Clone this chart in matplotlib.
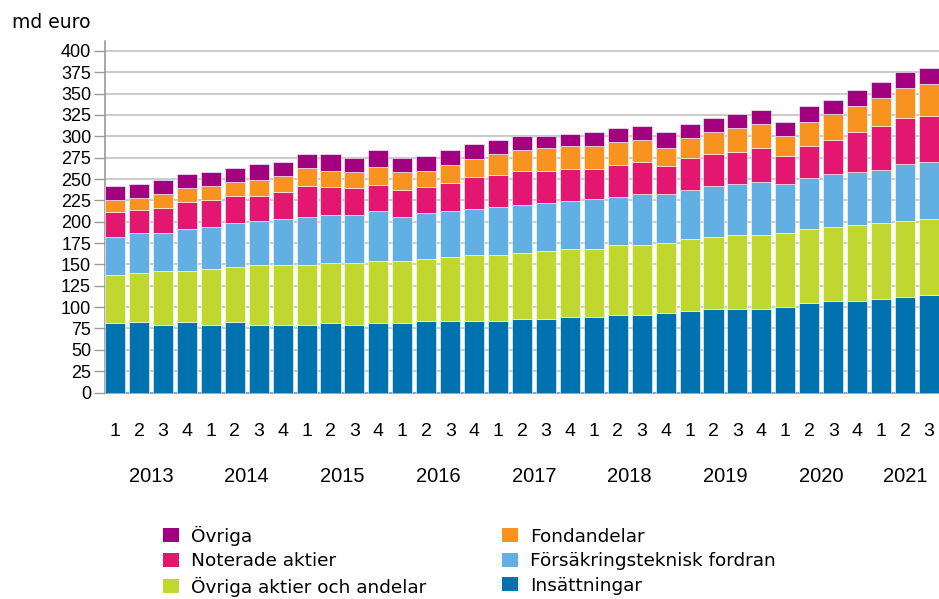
import matplotlib
matplotlib.use("Agg")
import matplotlib.pyplot as plt
import matplotlib.transforms as mtransforms
from matplotlib.patches import Patch
import numpy as np

quarters = ["1", "2", "3", "4"] * 8 + ["1", "2", "3"]
years = ["2013", "2014", "2015", "2016", "2017", "2018", "2019", "2020", "2021"]

insattningar = [81.7, 82.0, 79.0, 82.0, 79.0, 82.0, 79.0, 79.0, 79.0, 81.4, 79.0, 81.4,
                81.4, 83.7, 83.7, 83.7, 83.7, 86.0, 86.0, 88.4, 88.4, 90.7, 90.7, 93.0,
                95.4, 97.7, 97.7, 97.7, 100.1, 104.8, 107.1, 107.1, 109.5, 111.8, 114.2]
ovriga_aktier = [55.9, 58.3, 63.6, 60.6, 66.0, 65.3, 70.6, 70.6, 70.6, 70.5, 72.9, 73.0,
                 73.0, 73.0, 75.3, 77.7, 77.7, 77.7, 80.0, 80.0, 80.0, 82.4, 82.4, 82.4,
                 84.7, 84.7, 87.1, 87.1, 87.0, 87.0, 87.0, 89.4, 89.3, 89.4, 89.3]
forsakring = [44.8, 46.7, 44.4, 49.2, 49.2, 51.5, 51.6, 53.9, 56.3, 55.9, 55.9, 58.1,
              51.5, 53.8, 53.5, 53.8, 56.2, 56.2, 56.2, 56.2, 58.5, 56.2, 58.9, 56.6,
              56.7, 59.1, 59.0, 61.3, 56.7, 59.0, 61.4, 61.3, 61.4, 66.0, 66.0]
noterade = [28.6, 26.3, 28.6, 30.9, 30.8, 30.9, 28.5, 30.9, 35.6, 33.2, 31.2, 30.4,
            30.9, 30.5, 33.2, 37.5, 37.4, 39.8, 37.5, 37.5, 35.2, 37.5, 37.5, 32.8,
            37.4, 37.4, 37.5, 39.9, 32.8, 37.5, 39.8, 46.9, 51.5, 53.8, 53.9]
fondandelar = [14.0, 14.1, 16.4, 16.3, 16.5, 16.3, 18.8, 18.8, 21.0, 18.7, 18.8, 21.5,
               21.0, 18.7, 21.1, 21.1, 23.9, 23.9, 26.3, 26.2, 26.2, 26.2, 25.8, 21.2,
               23.4, 25.8, 28.1, 28.0, 23.4, 28.1, 30.4, 30.4, 33.0, 35.2, 37.5]
ovriga = [16.5, 16.4, 16.5, 16.5, 16.3, 16.5, 18.7, 16.3, 16.4, 19.2, 16.4, 19.2,
          16.4, 16.9, 16.8, 16.8, 16.4, 16.4, 14.0, 14.0, 16.4, 16.4, 16.4, 18.7,
          16.4, 16.3, 16.3, 16.4, 16.4, 18.7, 16.4, 18.8, 18.5, 18.7, 18.7]

series = [
    ("Insättningar", insattningar, "#0072b0"),
    ("Övriga aktier och andelar", ovriga_aktier, "#c0d72f"),
    ("Försäkringsteknisk fordran", forsakring, "#62afe3"),
    ("Noterade aktier", noterade, "#e3176f"),
    ("Fondandelar", fondandelar, "#f7931e"),
    ("Övriga", ovriga, "#a3007f"),
]

plt.rcParams["font.family"] = ["Liberation Sans", "DejaVu Sans"]

fig = plt.figure(figsize=(9.39, 5.99), dpi=100)
ax = fig.add_axes([105 / 939, 1 - 392.5 / 599, 834 / 939, (392.5 - 40.7) / 599])

n = len(quarters)
x = np.arange(n)
bw = 0.84
bottom = np.zeros(n)
for name, vals, col in series:
    v = np.array(vals)
    ax.bar(x, v, bw, bottom=bottom, color=col, edgecolor="white", linewidth=0.4, zorder=3)
    bottom += v

ax.set_xlim(-bw / 2, n - 1 + bw / 2)
ax.set_ylim(0, 412)
ax.set_yticks(np.arange(0, 401, 25))
ax.tick_params(axis="y", labelsize=13, length=8, width=1, color="#999999", pad=2)
ax.yaxis.grid(True, color="#cccccc", linewidth=1.5, zorder=0)
ax.set_axisbelow(True)

ax.set_xticks(x)
ax.set_xticklabels(quarters, fontsize=14)
ax.tick_params(axis="x", length=0, pad=22)

for s in ["top", "right"]:
    ax.spines[s].set_visible(False)
ax.spines["left"].set_color("#999999")
ax.spines["bottom"].set_color("#999999")
ax.spines["left"].set_linewidth(1.2)
ax.spines["bottom"].set_linewidth(1.2)

trans = mtransforms.blended_transform_factory(ax.transData, fig.transFigure)
for i, yr in enumerate(years):
    idx = [j for j in range(4 * i, min(4 * i + 4, n))]
    cx = np.mean(idx)
    ax.text(cx, 1 - 476 / 599, yr, transform=trans, ha="center", va="center", fontsize=14.5)

fig.text(12 / 939, 1 - 22 / 599, "md euro", ha="left", va="center", fontsize=13.5,
         family=["DejaVu Sans"])

order = ["Övriga", "Noterade aktier", "Övriga aktier och andelar",
         "Fondandelar", "Försäkringsteknisk fordran", "Insättningar"]
cmap = {name: col for name, vals, col in series}
handles = [Patch(facecolor=cmap[o], edgecolor="none", label=o) for o in order]
fig.legend(handles=handles, ncol=2, loc="upper left",
           bbox_to_anchor=(159 / 939, 1 - 522 / 599), frameon=False,
           prop={"family": ["DejaVu Sans"], "size": 13.3},
           handlelength=0.87, handleheight=0.8, handletextpad=0.65,
           labelspacing=0.35, columnspacing=4.1, borderaxespad=0, borderpad=0.2)

fig.savefig("out.png", dpi=100)
